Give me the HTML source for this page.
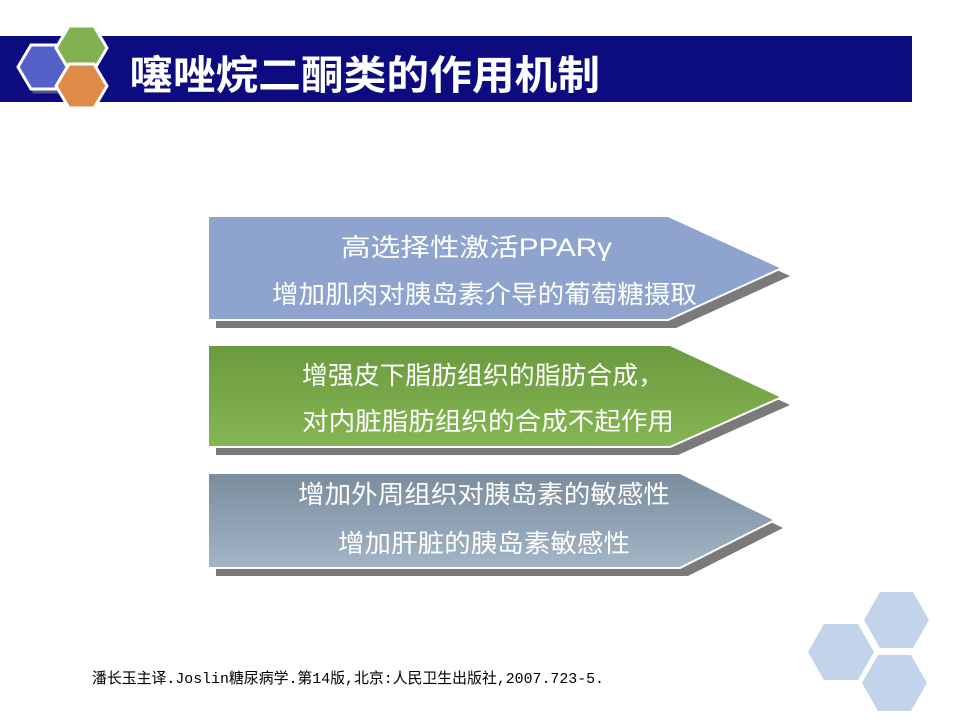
<!DOCTYPE html>
<html><head><meta charset="utf-8"><style>
body{margin:0;background:#fff;}
svg{display:block;}
.t{font-family:"Liberation Sans","Noto Sans CJK SC",sans-serif;}
.m{font-family:"Liberation Mono","Noto Sans CJK SC",monospace;}
</style></head><body>
<svg width="960" height="720" viewBox="0 0 960 720" xmlns="http://www.w3.org/2000/svg">
<defs>
<linearGradient id="g2" x1="0" y1="0" x2="0" y2="1"><stop offset="0" stop-color="#6a9a3e"/><stop offset="1" stop-color="#86b653"/></linearGradient>
<linearGradient id="g3" x1="0" y1="0" x2="0" y2="1"><stop offset="0" stop-color="#7a8c9c"/><stop offset="1" stop-color="#a2b6c8"/></linearGradient>
</defs>
<rect x="0" y="36" width="912" height="66" fill="#0c0c80"/>
<g stroke="#fff" stroke-width="3">
<polygon points="18,67 31,45 56,45 69,67 56,89 31,89" fill="#5560c8" transform="translate(3,3)" stroke="#999" opacity="0.5"/>
<polygon points="18,67 31,45 56,45 69,67 56,89 31,89" fill="#5560c8"/>
<polygon points="56,48 69,26 94,26 107,48 94,70 69,70" fill="#80b050"/>
<polygon points="56,86 69,64 94,64 107,86 94,108 69,108" fill="#e08a48"/>
</g>
<text class="t" x="130" y="89" font-size="40" font-weight="bold" fill="#fff" textLength="470" lengthAdjust="spacingAndGlyphs">噻唑烷二酮类的作用机制</text>

<polygon points="216,224 676,224 790,276 676,328 216,328" fill="#7a7a7a"/>
<polygon points="208,216 668,216 782,268 668,320 208,320" fill="#8ea4cf" stroke="#fff" stroke-width="2"/>
<text class="t" x="341" y="256" font-size="25" fill="#fff" textLength="271" lengthAdjust="spacingAndGlyphs">高选择性激活PPARγ</text>
<text class="t" x="272" y="303" font-size="25" fill="#fff" textLength="425" lengthAdjust="spacingAndGlyphs">增加肌肉对胰岛素介导的葡萄糖摄取</text>

<polygon points="216,353 678,353 790,405 678,455 216,455" fill="#7a7a7a"/>
<polygon points="208,345 670,345 782,397 670,447 208,447" fill="url(#g2)" stroke="#fff" stroke-width="2"/>
<text class="t" x="302" y="384" font-size="25" fill="#fff" textLength="362" lengthAdjust="spacingAndGlyphs">增强皮下脂肪组织的脂肪合成，</text>
<text class="t" x="302" y="430" font-size="25" fill="#fff" textLength="372" lengthAdjust="spacingAndGlyphs">对内脏脂肪组织的合成不起作用</text>

<polygon points="216,481 688,481 783,528 688,576 216,576" fill="#7a7a7a"/>
<polygon points="208,473 680,473 775,520 680,568 208,568" fill="url(#g3)" stroke="#fff" stroke-width="2"/>
<text class="t" x="298" y="503" font-size="25" fill="#fff" textLength="372" lengthAdjust="spacingAndGlyphs">增加外周组织对胰岛素的敏感性</text>
<text class="t" x="338" y="552" font-size="25" fill="#fff" textLength="292" lengthAdjust="spacingAndGlyphs">增加肝脏的胰岛素敏感性</text>

<g fill="#c2d4ea">
<polygon points="808,652 824,624 858,624 874,652 858,680 824,680"/>
<polygon points="864,620 880,592 913,592 929,620 913,648 880,648"/>
<polygon points="862,683 878,655 911,655 927,683 911,711 878,711"/>
</g>
<text class="m" x="92" y="683" font-size="15" fill="#000" textLength="512" lengthAdjust="spacingAndGlyphs">潘长玉主译.Joslin糖尿病学.第14版,北京:人民卫生出版社,2007.723-5.</text>
</svg>
</body></html>
